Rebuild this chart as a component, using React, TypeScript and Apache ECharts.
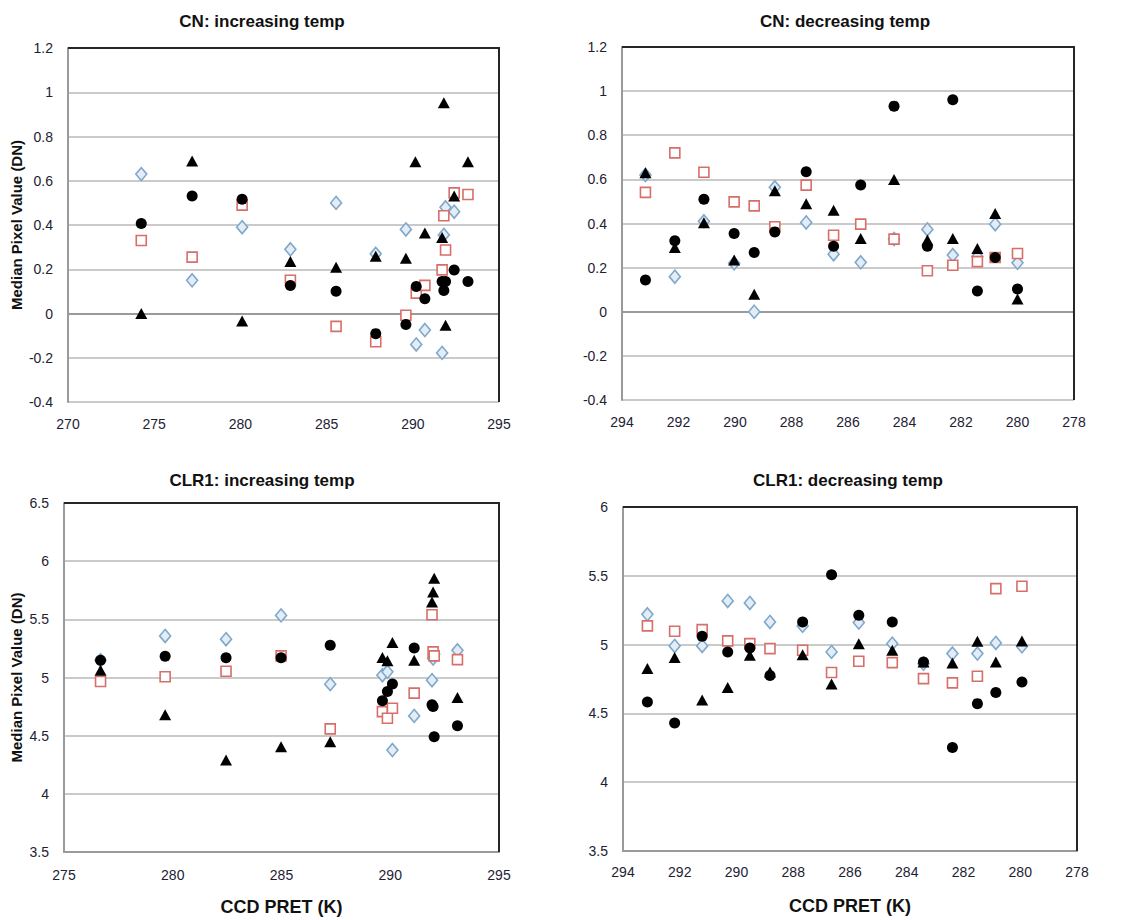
import React, { useEffect, useRef } from "react";
import * as echarts from "echarts";

// ---- CN: increasing temp ----
const cnIncDiamondX = [274.25, 277.2, 280.1, 282.9, 285.55, 287.85, 289.6, 290.2, 290.7, 291.7, 291.8, 291.9, 292.4];
const cnIncDiamondY = [0.63, 0.15, 0.39, 0.29, 0.5, 0.27, 0.38, -0.14, -0.075, -0.178, 0.355, 0.48, 0.46];
const cnIncSquareX = [274.25, 277.2, 280.1, 282.9, 285.55, 287.85, 289.6, 290.2, 290.7, 291.7, 291.9, 291.8, 292.4, 293.2];
const cnIncSquareY = [0.33, 0.255, 0.49, 0.15, -0.058, -0.128, -0.008, 0.092, 0.127, 0.197, 0.287, 0.442, 0.545, 0.538];
const cnIncCircleX = [274.25, 277.2, 280.1, 282.9, 285.55, 287.85, 289.6, 290.2, 290.7, 291.8, 291.7, 291.9, 292.4, 293.2];
const cnIncCircleY = [0.407, 0.531, 0.516, 0.127, 0.101, -0.091, -0.05, 0.122, 0.067, 0.104, 0.145, 0.145, 0.197, 0.145];
const cnIncTriangleX = [274.25, 277.2, 280.1, 282.9, 285.55, 287.85, 289.6, 290.15, 290.7, 291.7, 291.8, 291.9, 292.4, 293.2];
const cnIncTriangleY = [0.0, 0.689, -0.034, 0.235, 0.209, 0.259, 0.25, 0.686, 0.364, 0.344, 0.952, -0.053, 0.531, 0.686];

// ---- CN: decreasing temp ----
const cnDecX = [293.17, 292.13, 291.1, 290.03, 289.32, 288.59, 287.48, 286.51, 285.55, 284.37, 283.19, 282.29, 281.42, 280.79, 280.0];
const cnDecDiamondY = [0.62, 0.159, 0.41, 0.22, 0.0, 0.564, 0.405, 0.261, 0.224, 0.33, 0.373, 0.257, 0.25, 0.397, 0.222];
const cnDecSquareY = [0.541, 0.72, 0.632, 0.498, 0.48, 0.385, 0.574, 0.347, 0.397, 0.329, 0.186, 0.211, 0.227, 0.246, 0.264];
const cnDecCircleY = [0.144, 0.322, 0.51, 0.355, 0.269, 0.362, 0.635, 0.297, 0.574, 0.932, 0.297, 0.961, 0.094, 0.246, 0.103];
const cnDecTriangleY = [0.63, 0.291, 0.403, 0.234, 0.079, 0.548, 0.49, 0.46, 0.332, 0.6, 0.325, 0.332, 0.287, 0.445, 0.058];

// ---- CLR1: increasing temp ----
const clrIncX = [276.68, 279.65, 282.45, 284.98, 287.24, 289.64, 289.87, 290.1, 291.1, 291.92, 291.97, 292.02, 293.09];
const clrIncDiamondY = [5.149, 5.357, 5.329, 5.534, 4.943, 5.02, 5.049, 4.376, 4.67, 4.977, 5.163, 5.2, 5.234];
const clrIncSquareY = [4.965, 5.006, 5.054, 5.186, 4.558, 4.707, 4.65, 4.736, 4.866, 5.54, 5.22, 5.186, 5.154];
const clrIncCircleY = [5.149, 5.183, 5.169, 5.169, 5.277, 4.8, 4.88, 4.944, 5.254, 4.765, 4.75, 4.49, 4.586];
const clrIncTriangleY = [5.063, 4.679, 4.29, 4.405, 4.448, 5.171, 5.143, 5.3, 5.149, 5.649, 5.734, 5.854, 4.829];

// ---- CLR1: decreasing temp ----
const clrDecX = [293.14, 292.18, 291.21, 290.31, 289.53, 288.82, 287.67, 286.65, 285.69, 284.51, 283.41, 282.39, 281.51, 280.86, 279.94];
const clrDecDiamondY = [5.22, 4.99, 4.99, 5.317, 5.303, 5.165, 5.136, 4.947, 5.16, 5.007, 4.86, 4.935, 4.935, 5.012, 4.988];
const clrDecSquareY = [5.136, 5.097, 5.109, 5.027, 5.007, 4.971, 4.959, 4.797, 4.879, 4.869, 4.753, 4.722, 4.77, 5.407, 5.424];
const clrDecCircleY = [4.583, 4.431, 5.061, 4.947, 4.976, 4.775, 5.165, 5.508, 5.213, 5.165, 4.874, 4.252, 4.571, 4.652, 4.729];
const clrDecTriangleY = [4.826, 4.906, 4.598, 4.689, 4.923, 4.8, 4.927, 4.713, 5.007, 4.959, 4.874, 4.867, 5.024, 4.874, 5.027];

const panelTitles = ["CN: increasing temp", "CN: decreasing temp", "CLR1: increasing temp", "CLR1: decreasing temp"];
const yAxisName = "Median Pixel Value (DN)";
const xAxisName = "CCD PRET (K)";

const FONT = "'Liberation Sans', Arial, sans-serif";

const zip = (xs: number[], ys: number[]) => xs.map((x, i) => [x, ys[i]]);

const markerStyles = {
  diamond: { symbol: "diamond", symbolSize: [11, 13], itemStyle: { color: "#e4edf6", borderColor: "#7ea8cc", borderWidth: 1.6, opacity: 1 } },
  square: { symbol: "rect", symbolSize: 10, itemStyle: { color: "#ffffff", borderColor: "#d86e68", borderWidth: 1.6, opacity: 1 } },
  circle: { symbol: "circle", symbolSize: 11, itemStyle: { color: "#000000", opacity: 1 } },
  triangle: { symbol: "triangle", symbolSize: [12, 11], itemStyle: { color: "#000000", opacity: 1 } },
};

function seriesFor(idx: number, sets: { kind: keyof typeof markerStyles; data: number[][] }[]) {
  return sets.map((s) => ({
    type: "scatter",
    xAxisIndex: idx,
    yAxisIndex: idx,
    data: s.data,
    ...markerStyles[s.kind],
  }));
}

// Plot-area boxes of the four panels
const panelBoxes = [
  { left: 68, top: 48, width: 431, height: 354 },
  { left: 622, top: 47, width: 452, height: 353 },
  { left: 64, top: 503, width: 435, height: 349 },
  { left: 623, top: 507, width: 454, height: 344 },
];

export default function App() {
  const ref = useRef<HTMLDivElement>(null);

  useEffect(() => {
    if (!ref.current) return;
    const chart = echarts.init(ref.current, undefined, { renderer: "svg" });

    const grids = panelBoxes.map((g) => ({ ...g, show: true, borderWidth: 0, backgroundColor: "#ffffff" }));

    const axisLabel = { color: "#1d2233", fontFamily: FONT, fontSize: 14 };
    const axisLine = { show: true, lineStyle: { color: "#9a9a9a", width: 2 } };

    const xAxes = [
      { min: 270, max: 295, interval: 5, inverse: false, margin: 15 },
      { min: 278, max: 294, interval: 2, inverse: true, margin: 15 },
      { min: 275, max: 295, interval: 5, inverse: false, margin: 16 },
      { min: 278, max: 294, interval: 2, inverse: true, margin: 14 },
    ].map((a, i) => ({
      type: "value",
      gridIndex: i,
      min: a.min,
      max: a.max,
      interval: a.interval,
      inverse: a.inverse,
      axisLine,
      axisTick: { show: false },
      splitLine: { show: false },
      axisLabel: { ...axisLabel, margin: a.margin },
      name: i >= 2 ? xAxisName : "",
      nameLocation: "middle",
      nameGap: 46,
      nameTextStyle: { fontFamily: FONT, fontWeight: "bold", fontSize: 18, color: "#111" },
    }));

    const yAxes = [
      { min: -0.4, max: 1.2, interval: 0.2, named: true, gap: 44 },
      { min: -0.4, max: 1.2, interval: 0.2, named: false, gap: 44 },
      { min: 3.5, max: 6.5, interval: 0.5, named: true, gap: 40 },
      { min: 3.5, max: 6, interval: 0.5, named: false, gap: 40 },
    ].map((a, i) => ({
      type: "value",
      gridIndex: i,
      min: a.min,
      max: a.max,
      interval: a.interval,
      axisLine,
      axisTick: { show: false },
      splitLine: { show: true, lineStyle: { color: "#b8b8b8", width: 1.5 } },
      axisLabel: { ...axisLabel, margin: 15 },
      name: a.named ? yAxisName : "",
      nameLocation: "middle",
      nameRotate: 90,
      nameGap: a.gap,
      nameTextStyle: { fontFamily: FONT, fontWeight: "bold", fontSize: 15, color: "#111" },
    }));

    const titleCenters = [
      [257, 8],
      [840, 8],
      [257, 467],
      [843, 467],
    ];

    // dark frame on the top and right edges of each plot area
    const frames = panelBoxes.map((b) => ({
      type: "polyline",
      z: 100,
      silent: true,
      shape: {
        points: [
          [b.left, b.top],
          [b.left + b.width, b.top],
          [b.left + b.width, b.top + b.height],
        ],
      },
      style: { fill: null, stroke: "#262626", lineWidth: 2 },
    }));

    const series = [
      ...seriesFor(0, [
        { kind: "diamond", data: zip(cnIncDiamondX, cnIncDiamondY) },
        { kind: "square", data: zip(cnIncSquareX, cnIncSquareY) },
        { kind: "circle", data: zip(cnIncCircleX, cnIncCircleY) },
        { kind: "triangle", data: zip(cnIncTriangleX, cnIncTriangleY) },
      ]),
      ...seriesFor(1, [
        { kind: "diamond", data: zip(cnDecX, cnDecDiamondY) },
        { kind: "square", data: zip(cnDecX, cnDecSquareY) },
        { kind: "circle", data: zip(cnDecX, cnDecCircleY) },
        { kind: "triangle", data: zip(cnDecX, cnDecTriangleY) },
      ]),
      ...seriesFor(2, [
        { kind: "diamond", data: zip(clrIncX, clrIncDiamondY) },
        { kind: "square", data: zip(clrIncX, clrIncSquareY) },
        { kind: "circle", data: zip(clrIncX, clrIncCircleY) },
        { kind: "triangle", data: zip(clrIncX, clrIncTriangleY) },
      ]),
      ...seriesFor(3, [
        { kind: "diamond", data: zip(clrDecX, clrDecDiamondY) },
        { kind: "square", data: zip(clrDecX, clrDecSquareY) },
        { kind: "circle", data: zip(clrDecX, clrDecCircleY) },
        { kind: "triangle", data: zip(clrDecX, clrDecTriangleY) },
      ]),
    ];

    chart.setOption({
      animation: false,
      backgroundColor: "#ffffff",
      title: panelTitles.map((t, i) => ({
        text: t,
        left: titleCenters[i][0],
        top: titleCenters[i][1],
        textAlign: "center",
        textStyle: { fontFamily: FONT, fontWeight: "bold", fontSize: 17, color: "#111" },
      })),
      grid: grids,
      xAxis: xAxes,
      yAxis: yAxes,
      series,
      graphic: frames,
    });

    return () => chart.dispose();
  }, []);

  return (
    <div
      ref={ref}
      style={{ position: "absolute", left: 0, top: 0, width: 1148, height: 920, background: "#fff" }}
    />
  );
}
